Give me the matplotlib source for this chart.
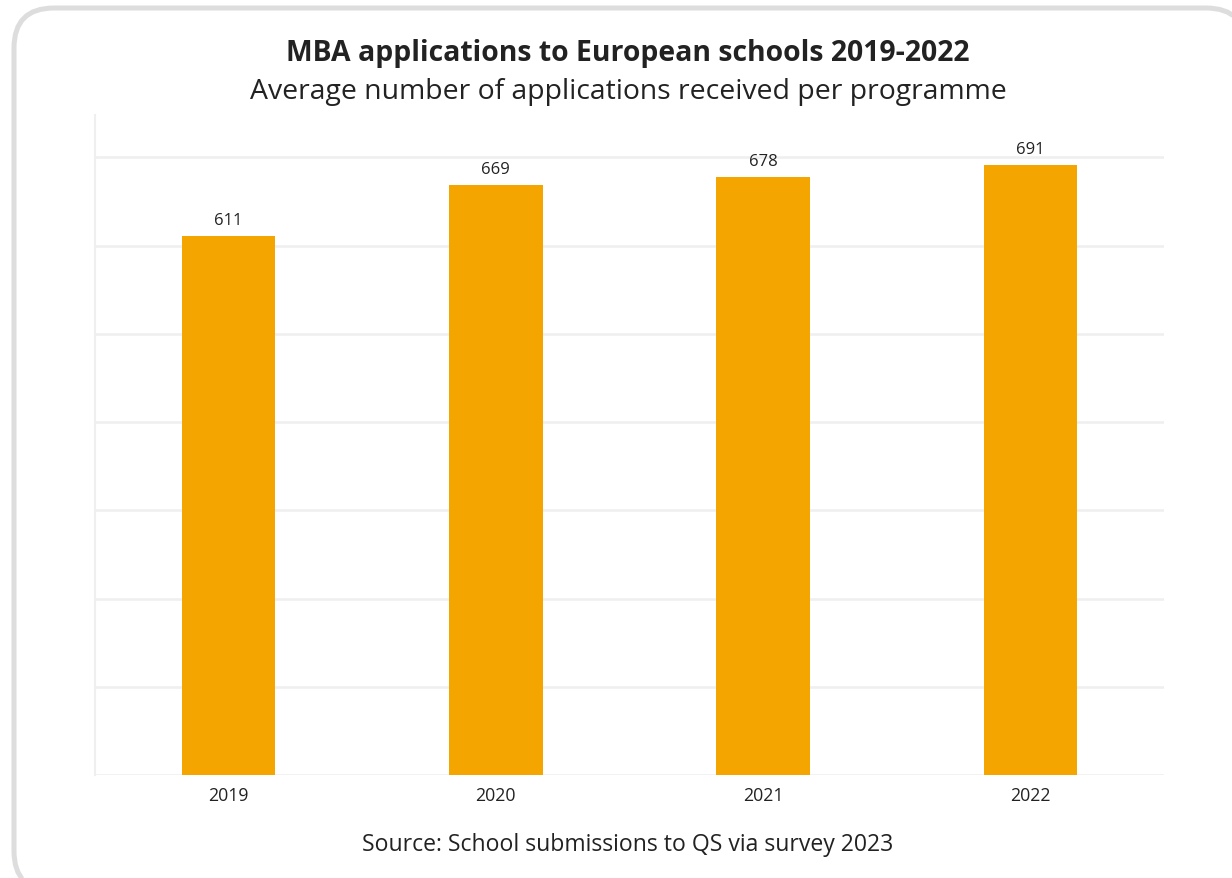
import matplotlib
matplotlib.use("Agg")
import matplotlib.pyplot as plt
from matplotlib.patches import FancyBboxPatch, Polygon
from matplotlib.transforms import IdentityTransform

plt.rcParams['font.family'] = ['Open Sans', 'DejaVu Sans']

years = ["2019", "2020", "2021", "2022"]
applications = [611, 669, 678, 691]
grid_ticks = [0, 100, 200, 300, 400, 500, 600, 700]

bar_color = "#F5A500"
text_color = "#222222"
grid_color = "#EFEFEF"

W, H = 1232, 879
fig = plt.figure(figsize=(W / 100, H / 100), dpi=100)

# rounded card outline in display pixels (origin bottom-left); the curves are
# flattened to a polygon so the off-canvas corners clip cleanly
rounded = FancyBboxPatch((14, -13), 1232, 883,
                         boxstyle="round,pad=0,rounding_size=40")
outline = rounded.get_path().to_polygons()[0]
card = Polygon(outline, closed=True, fill=False, edgecolor="#DDDDDD",
               linewidth=3.6, transform=IdentityTransform())
fig.patches.append(card)

ax = fig.add_axes([95 / W, 1 - 776 / H, (1164 - 95) / W, (776 - 116) / H])
ax.patch.set_alpha(0)
x = range(len(years))
bars = ax.bar(x, applications, width=0.35, color=bar_color, zorder=3)
for rect, val in zip(bars, applications):
    ax.text(rect.get_x() + rect.get_width() / 2, val + 9, str(val),
            ha="center", va="bottom", fontsize=12, color=text_color)

ax.set_xlim(-0.5, 3.5)
ax.set_ylim(0, 748)
ax.set_yticks(grid_ticks)
ax.set_yticklabels([])
ax.tick_params(axis="y", length=0)
ax.tick_params(axis="x", length=0, pad=8, labelsize=12.8, labelcolor=text_color)
ax.set_xticks(list(x))
ax.set_xticklabels(years)
ax.grid(axis="y", color=grid_color, linewidth=1.8, zorder=0)
for side in ["top", "right", "bottom"]:
    ax.spines[side].set_visible(False)
ax.spines["left"].set_color(grid_color)
ax.spines["left"].set_linewidth(1.5)

cx = 628 / W
fig.text(cx, 1 - 54 / H, "MBA applications to European schools 2019-2022",
         ha="center", va="center", fontsize=20.4, fontweight="bold", color=text_color)
fig.text(cx, 1 - 92 / H, "Average number of applications received per programme",
         ha="center", va="center", fontsize=20.4, color=text_color)
fig.text(cx, 1 - 845 / H, "Source: School submissions to QS via survey 2023",
         ha="center", va="center", fontsize=16.6, color=text_color)

fig.savefig("out.png", dpi=100, facecolor="white")
